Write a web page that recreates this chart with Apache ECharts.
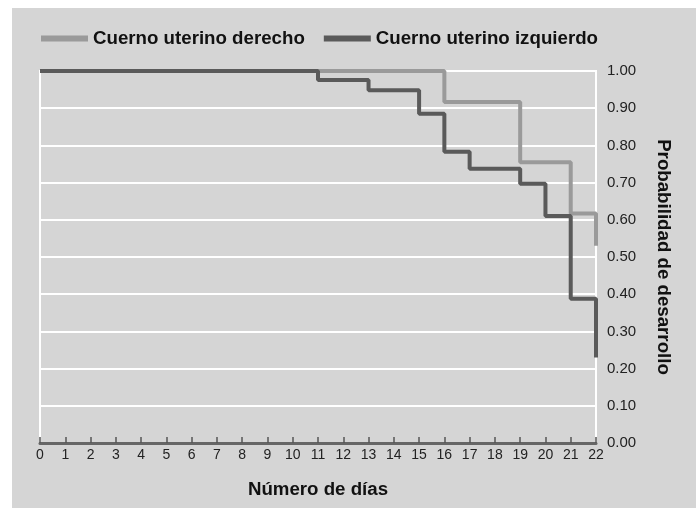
<!DOCTYPE html>
<html>
<head>
<meta charset="utf-8">
<script src="https://cdn.jsdelivr.net/npm/echarts@6/dist/echarts.min.js"></script>
<style>
html,body{margin:0;padding:0;background:#fff;}
#bg{position:absolute;left:12px;top:8px;width:684px;height:500px;background:#d5d5d5;}
#chart{position:absolute;left:0;top:0;width:696px;height:510px;}
</style>
</head>
<body>
<div id="bg"></div>
<div id="chart"></div>
<script>
// Kaplan-Meier style step data: [day, probability]
var seriesNames = ['Cuerno uterino derecho', 'Cuerno uterino izquierdo'];
var derechoDays = [0, 16, 19, 21, 22];
var derechoProb = [1.00, 0.917, 0.755, 0.617, 0.53];
var izquierdoDays = [0, 11, 13, 15, 16, 17, 19, 20, 21, 22];
var izquierdoProb = [1.00, 0.976, 0.948, 0.885, 0.783, 0.737, 0.697, 0.61, 0.388, 0.23];
var xName = 'Número de días';
var yName = 'Probabilidad de desarrollo';

function pairs(xs, ys){ return xs.map(function(x,i){ return [x, ys[i]]; }); }

var chart = echarts.init(document.getElementById('chart'));
chart.setOption({
  backgroundColor: 'transparent',
  animation: false,
  textStyle: {fontFamily: 'Liberation Sans, Arial, sans-serif'},
  legend: {
    left: 36, top: 24,
    itemWidth: 47, itemHeight: 6, itemGap: 19,
    icon: 'rect',
    textStyle: {fontSize: 18.7, fontWeight: 'bold', color: '#111'},
    data: seriesNames
  },
  grid: {
    left: 40, right: 100, top: 71, bottom: 67,
    show: true, borderColor: '#ffffff', borderWidth: 2, backgroundColor: 'transparent'
  },
  xAxis: {
    type: 'value', min: 0, max: 22, interval: 1,
    name: xName, nameLocation: 'middle', nameGap: 37,
    nameTextStyle: {fontSize: 18.7, fontWeight: 'bold', color: '#111'},
    axisLine: {show: true, lineStyle: {color: '#666', width: 3}},
    axisTick: {show: true, inside: true, length: 6, lineStyle: {color: '#555', width: 1.5}},
    axisLabel: {fontSize: 14, color: '#222', margin: 5},
    splitLine: {show: false}
  },
  yAxis: {
    type: 'value', min: 0, max: 1, interval: 0.1, position: 'right',
    name: yName, nameLocation: 'middle', nameRotate: -90, nameGap: 58,
    nameTextStyle: {fontSize: 18.7, fontWeight: 'bold', color: '#111'},
    axisLine: {show: false},
    axisTick: {show: false},
    axisLabel: {fontSize: 15, color: '#222', margin: 11, formatter: function(v){ return v.toFixed(2); }},
    splitLine: {show: true, lineStyle: {color: '#ffffff', width: 2}}
  },
  series: [
    {
      name: seriesNames[0], type: 'line', step: 'end', showSymbol: false,
      data: pairs(derechoDays, derechoProb),
      lineStyle: {color: '#9a9a9a', width: 4}, itemStyle: {color: '#9a9a9a'}
    },
    {
      name: seriesNames[1], type: 'line', step: 'end', showSymbol: false,
      data: pairs(izquierdoDays, izquierdoProb),
      lineStyle: {color: '#5a5a5a', width: 4}, itemStyle: {color: '#5a5a5a'}
    }
  ]
});
</script>
</body>
</html>
